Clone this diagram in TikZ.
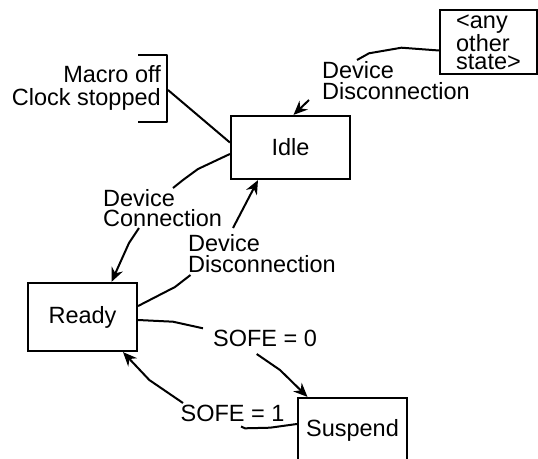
\documentclass[tikz,border=0pt]{standalone}
\usepackage{fontspec}
\setmainfont{Liberation Sans}
\usetikzlibrary{positioning,arrows.meta}
\newcommand\diagfont{\fontsize{23.5}{20.5}\selectfont}
\tikzset{
  statebox/.style={draw, line width=2.2pt, align=center, inner sep=0pt, font=\diagfont},
  trlabel/.style={align=left, inner sep=0pt, font=\diagfont},
  trline/.style={line width=2pt, line join=round},
  trarrow/.style={trline, -{Stealth[length=14pt, width=12pt]}},
}

\begin{document}
\begin{tikzpicture}[x=1pt, y=-1pt]
  \clip (0,0) rectangle (538,458);
  % states
  \node[statebox, minimum width=119pt, minimum height=63pt] (idle) at (290.5,147.5) {Idle};
  \node[statebox, minimum width=109pt, minimum height=68pt] (ready) at (82.5,317) {Ready};
  \node[statebox, minimum width=109pt, minimum height=64pt] (suspend) at (352.5,430) {Suspend};
  \node[statebox, minimum width=97pt, minimum height=64pt, align=left,
    font=\fontsize{23.5}{18}\selectfont] (other) at (488.5,42) {<any\\other\\state>};

  % note on Idle
  \node[trlabel, align=right, anchor=east, font=\fontsize{23.5}{23}\selectfont]
    (note) at (161,87.5) {Macro off\\Clock stopped};
  \draw[trline] (138,55) -- (167,55) -- (167,122) -- (138,122);
  \coordinate (note-out) at (168,90);
  \draw[trline] (note-out) -- ([yshift=5pt]idle.west);

  % transition labels
  \foreach \name/\x/\y/\text in {
      conn/103/208/Device\\Connection,
      disc/188/253.5/Device\\Disconnection,
      discany/322/80.5/Device\\Disconnection} {
    \node[trlabel, anchor=west] (\name) at (\x,\y) {\text};
  }
  \node[trlabel] (sofe0) at (265,338.5) {SOFE = 0};
  \node[trlabel] (sofe1) at (232.5,413) {SOFE = 1};

  % label ends of the transitions
  \coordinate (conn-in) at (173,188);   \coordinate (conn-out) at (139,228);
  \coordinate (disc-in) at (190.5,275); \coordinate (disc-out) at (233,228);
  \coordinate (any-in) at (357,60);     \coordinate (any-out) at (309,100);
  \coordinate (sofe0-in) at (203,328.3);\coordinate (sofe0-out) at (256.7,354);
  \coordinate (sofe1-in) at (241,426.5);\coordinate (sofe1-out) at (183,403);

  % transitions
  \draw[trline] ([yshift=-6.5pt]idle.west) -- (198,169) -- (183,180) -- (conn-in);
  \draw[trarrow] (conn-out) -- (129,243) -- ([xshift=29pt]ready.north);
  \draw[trline] ([yshift=11pt]ready.east) -- (175,287) -- (disc-in);
  \draw[trarrow] (disc-out) -- ([xshift=-32.5pt]idle.south);
  \draw[trline] ([yshift=-8.5pt]other.west) -- (401.5,47.7) -- (369,53.3) -- (any-in);
  \draw[trarrow] (any-out) -- ([xshift=3pt]idle.north);
  \draw[trline] ([yshift=-3pt]ready.east) -- (173,321.7) -- (sofe0-in);
  \draw[trarrow] (sofe0-out) -- (280,370) -- ([xshift=-45pt]suspend.north);
  \draw[trline] ([yshift=6pt]suspend.west) -- (270,427.7) -- (245,428.3) -- (sofe1-in);
  \draw[trarrow] (sofe1-out) -- (149.3,380) -- ([xshift=40.5pt]ready.south);
\end{tikzpicture}
\end{document}
